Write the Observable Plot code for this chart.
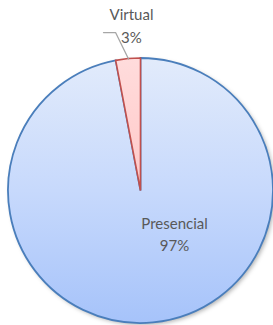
<!DOCTYPE html>
<html>
<head>
<meta charset="utf-8">
<script src="https://cdn.jsdelivr.net/npm/d3@7"></script>
<script src="https://cdn.jsdelivr.net/npm/@observablehq/plot@0.6"></script>
<style>
  html, body { margin: 0; padding: 0; background: #fff; }
  #chart { width: 273px; height: 325px; overflow: hidden; }
</style>
</head>
<body>
<div id="chart"></div>
<script>
const categories = ["Presencial", "Virtual"];
const values = [97, 3];
const valueLabels = ["97%", "3%"];

const W = 273, H = 325;
const cx = 140.5, cy = 190.5, R = 132.5;

const pie = d3.pie().sort(null).value(d => d.value);
const data = categories.map((c, i) => ({category: c, value: values[i], label: valueLabels[i]}));
const arcs = pie(data);

const fills = {Presencial: "url(#gBlue)", Virtual: "url(#gRed)"};
const strokes = {Presencial: "#4a7ebb", Virtual: "#c0504d"};

function pieMark(index, scales, values, dims, context) {
  const g = d3.create("svg:g");
  const defs = g.append("defs");
  const gb = defs.append("linearGradient").attr("id", "gBlue").attr("x1", 0).attr("y1", 0).attr("x2", 0).attr("y2", 1);
  gb.append("stop").attr("offset", "0%").attr("stop-color", "#e2ebfb");
  gb.append("stop").attr("offset", "50%").attr("stop-color", "#c7d9fc");
  gb.append("stop").attr("offset", "100%").attr("stop-color", "#a6c3fa");
  const gr = defs.append("linearGradient").attr("id", "gRed").attr("x1", 0).attr("y1", 0).attr("x2", 0).attr("y2", 1);
  gr.append("stop").attr("offset", "0%").attr("stop-color", "#ffdcdc");
  gr.append("stop").attr("offset", "100%").attr("stop-color", "#ffc8c8");
  const sh = defs.append("filter").attr("id", "shadow").attr("x", "-10%").attr("y", "-10%").attr("width", "130%").attr("height", "130%");
  sh.append("feDropShadow").attr("dx", 2).attr("dy", 2).attr("stdDeviation", 2).attr("flood-color", "#000").attr("flood-opacity", 0.3);

  const x0 = scales.x(0), y0 = scales.y(0);
  const r = scales.x(1) - scales.x(0);
  const arc = d3.arc().innerRadius(0).outerRadius(r);
  const grp = g.append("g").attr("transform", `translate(${x0},${y0})`);
  grp.append("circle").attr("r", r).attr("fill", "#fff").attr("filter", "url(#shadow)");
  for (const a of arcs) {
    grp.append("path")
      .attr("d", arc(a))
      .attr("fill", fills[a.data.category])
      .attr("stroke", strokes[a.data.category])
      .attr("stroke-width", a.data.category === "Virtual" ? 1.6 : 1.8)
      .attr("stroke-linejoin", "miter");
  }
  return g.node();
}

// label anchor positions (in radius units relative to centre): [x, y of name, y of value]
const labelPos = {Presencial: [0.253, -0.253, -0.419], Virtual: [-0.072, 1.325, 1.151]};
const labelRows = [];
for (const a of arcs) {
  const [lx, ly1, ly2] = labelPos[a.data.category];
  labelRows.push({x: lx, y: ly1, text: a.data.category});
  labelRows.push({x: lx, y: ly2, text: a.data.label});
}

const scaleX = {domain: [-1, 1], range: [cx - R, cx + R]};
const scaleY = {domain: [-1, 1], range: [cy + R, cy - R]};
// leader line for Virtual: from label to slice edge
const vArc = arcs.find(a => a.data.category === "Virtual");
const vMid = (vArc.startAngle + vArc.endAngle) / 2;
const leader = [
  {x: -0.283, y: 1.196},
  {x: -0.192, y: 1.196},
  {x: Math.sin(vMid), y: Math.cos(vMid)}
];

const chart = Plot.plot({
  width: W,
  height: H,
  margin: 0,
  x: {...scaleX, axis: null},
  y: {...scaleY, axis: null},
  style: {background: "#fff", overflow: "visible"},
  marks: [
    pieMark,
    Plot.line(leader, {x: "x", y: "y", stroke: "#a6a6a6", strokeWidth: 1.3}),
    Plot.text(labelRows, {x: "x", y: "y", text: "text", fill: "#595959", fontSize: 15, fontFamily: "Lato, 'Open Sans', sans-serif", textAnchor: "middle"})
  ]
});
document.getElementById("chart").append(chart);
</script>
</body>
</html>
